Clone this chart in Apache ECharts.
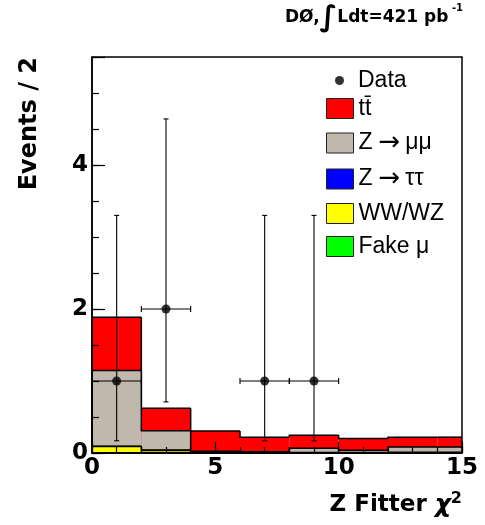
<!DOCTYPE html>
<html><head><meta charset="utf-8">
<script src="https://cdn.jsdelivr.net/npm/echarts@6/dist/echarts.min.js"></script>
<style>html,body{margin:0;padding:0;background:#fff}#c{width:485px;height:525px}</style>
</head><body><div id="c"></div>
<script>
// ---- data ----
const binEdges = [0, 2, 4, 6, 8, 10, 12, 14, 16];
const fakeMu  = [0, 0, 0, 0, 0, 0, 0, 0];
const wwwz    = [0.09, 0.035, 0.005, 0.003, 0.003, 0.003, 0.005, 0.005];
const ztautau = [0.005, 0.005, 0.01, 0.005, 0.005, 0.005, 0.005, 0.005];
const zmumu   = [1.05, 0.27, 0.01, 0.01, 0.057, 0.03, 0.073, 0.073];
const ttbar   = [0.74, 0.31, 0.28, 0.20, 0.18, 0.165, 0.137, 0.137];
const dataX       = [1, 3, 7, 9];
const dataY       = [1, 2, 1, 1];
const dataErrLow  = [0.83, 1.29, 0.83, 0.83];
const dataErrHigh = [2.30, 2.64, 2.30, 2.30];
const dataXErr    = [1, 1, 1, 1];
const xTickLabels = [0, 5, 10, 15];
const yTickLabels = [0, 2, 4];
const X_MIN = 0, X_MAX = 15, Y_MIN = 0, Y_MAX = 5.5;

// stack bottom -> top
const layers = [
  {name: 'Fake μ', vals: fakeMu, color: '#00ff00'},
  {name: 'WW/WZ', vals: wwwz, color: '#ffff00'},
  {name: 'Z → ττ', vals: ztautau, color: '#0000ff'},
  {name: 'Z → μμ', vals: zmumu, color: '#c0b7ad'},
  {name: 't\u0074\u0304', vals: ttbar, color: '#ff0000'}
];
let running = binEdges.slice(1).map(() => 0);
layers.forEach(l => { running = running.map((v, i) => v + l.vals[i]); l.cum = running.slice(); });

function histRender(params, api) {
  const x0 = api.value(0), x1 = Math.min(api.value(1), X_MAX), top = api.value(2), prev = api.value(3);
  const pBL = api.coord([x0, 0]);
  const pTR = api.coord([x1, top]);
  const pPrev = api.coord([x0, prev]);
  return {type: 'group', children: [
    {type: 'rect', shape: {x: pBL[0], y: pTR[1], width: pTR[0] - pBL[0], height: pBL[1] - pTR[1]},
     style: {fill: api.visual('color'), stroke: null}},
    {type: 'polyline', shape: {points: [[pBL[0], pPrev[1]], [pBL[0], pTR[1]], [pTR[0], pTR[1]]]},
     style: {stroke: '#000', lineWidth: 1.5, fill: null}}
  ]};
}

const histSeries = layers.slice().reverse().map(l => ({
  type: 'custom', name: l.name,
  itemStyle: {color: l.color},
  renderItem: histRender,
  encode: {x: [0, 1], y: 2},
  data: l.cum.map((c, i) => [binEdges[i], binEdges[i + 1], c, i > 0 ? l.cum[i - 1] : 0]),
  silent: true, z: 2
}));

function errRender(params, api) {
  const x = api.value(0), y = api.value(1), lo = api.value(2), hi = api.value(3), xe = api.value(4);
  const pl = api.coord([x, y - lo]), ph = api.coord([x, y + hi]);
  const pxl = api.coord([x - xe, y]), pxr = api.coord([x + xe, y]);
  const c = 2.5, st = {stroke: '#000', lineWidth: 1.1};
  const ln = (a, b, d, e) => ({type: 'line', shape: {x1: a, y1: b, x2: d, y2: e}, style: st});
  return {type: 'group', children: [
    ln(pl[0], pl[1], ph[0], ph[1]),
    ln(pxl[0], pxl[1], pxr[0], pxr[1]),
    ln(pl[0] - c, pl[1], pl[0] + c, pl[1]),
    ln(ph[0] - c, ph[1], ph[0] + c, ph[1]),
    ln(pxl[0], pxl[1] - 3, pxl[0], pxl[1] + 3),
    ln(pxr[0], pxr[1] - 3, pxr[0], pxr[1] + 3)
  ]};
}

const axisFont = {fontFamily: 'DejaVu Sans', fontWeight: 'bold', fontSize: 23, color: '#000'};
const legText = {fontFamily: 'Liberation Sans', fontSize: 23, lineHeight: 20, color: '#000',
  rich: {
    n: {fontFamily: 'Liberation Sans', fontSize: 23, lineHeight: 20, color: '#000'},
    ar: {fontFamily: 'DejaVu Sans', fontSize: 26, lineHeight: 20, color: '#000', padding: [0, 5, 0, 6]}
  }};
const legendFormatter = name => {
  const parts = name.split(' → ');
  return parts.length === 2 ? '{n|' + parts[0] + '}{ar|→}{n|' + parts[1] + '}' : '{n|' + name + '}';
};

const option = {
  animation: false,
  backgroundColor: '#fff',
  title: {
    text: '{a|DØ,}{i|∫}{a|Ldt=421 pb}{s| -1}',
    right: 22, top: 3, padding: 0,
    textStyle: {rich: {
      a: {fontFamily: 'DejaVu Sans', fontWeight: 'bold', fontSize: 17, color: '#000', lineHeight: 30},
      i: {fontFamily: 'DejaVu Sans', fontSize: 29, color: '#000', lineHeight: 30},
      s: {fontFamily: 'DejaVu Sans', fontWeight: 'bold', fontSize: 10, color: '#000', verticalAlign: 'top', lineHeight: 26}
    }}
  },
  grid: {left: 92, right: 23, top: 57, bottom: 72, show: true, borderColor: '#000', borderWidth: 1.5, backgroundColor: 'transparent', z: 6},
  legend: [
    {data: ['Data'], icon: 'circle', itemWidth: 27, itemHeight: 9, left: 335, top: 69, padding: 0,
     selectedMode: false, textStyle: legText, formatter: legendFormatter, itemStyle: {borderWidth: 0}},
    {data: layers.slice().reverse().map(l => l.name), icon: 'rect', orient: 'vertical',
     itemWidth: 27, itemHeight: 20, itemGap: 10, left: 326, top: 97, padding: 0,
     selectedMode: false, textStyle: legText, formatter: legendFormatter,
     itemStyle: {borderColor: '#222', borderWidth: 1}}
  ],
  xAxis: [
    {type: 'value', min: X_MIN, max: X_MAX, interval: 5, position: 'bottom', z: 5,
     axisLine: {show: true, lineStyle: {color: '#000', width: 1.5}},
     axisTick: {show: true, inside: true, length: 11, lineStyle: {color: '#000', width: 1.2}},
     axisLabel: {margin: 4, ...axisFont, formatter: v => xTickLabels.includes(v) ? String(v) : ''},
     splitLine: {show: false},
     name: '{b|Z Fitter }{c|χ}{s|2}', nameLocation: 'end', nameGap: 0,
     nameTextStyle: {...axisFont, align: 'right', verticalAlign: 'top', padding: [38, 0, 0, 0],
       rich: {
         b: {...axisFont, lineHeight: 28},
         c: {fontFamily: 'DejaVu Sans', fontStyle: 'italic', fontSize: 25, color: '#000', lineHeight: 28},
         s: {fontFamily: 'DejaVu Sans', fontWeight: 'bold', fontSize: 16, color: '#000', lineHeight: 18, verticalAlign: 'top'}
       }}},
    {type: 'value', min: X_MIN, max: X_MAX, interval: 1, position: 'bottom', z: 5,
     axisLine: {show: false}, axisLabel: {show: false}, splitLine: {show: false},
     axisTick: {show: true, inside: true, length: 6, lineStyle: {color: '#000', width: 1.2}}}
  ],
  yAxis: [
    {type: 'value', min: Y_MIN, max: Y_MAX, interval: 2, position: 'left', z: 5,
     axisLine: {show: true, lineStyle: {color: '#000', width: 1.5}},
     axisTick: {show: true, inside: true, length: 13, lineStyle: {color: '#000', width: 1.2}},
     axisLabel: {margin: 4, ...axisFont, formatter: v => yTickLabels.includes(v) ? String(v) : ''},
     splitLine: {show: false},
     name: 'Events / 2', nameLocation: 'end', nameGap: 0, nameRotate: 90,
     nameTextStyle: {...axisFont, fontSize: 24, align: 'right', verticalAlign: 'bottom', padding: [0, 0, 50, 0]}},
    {type: 'value', min: Y_MIN, max: Y_MAX, interval: 0.5, position: 'left', z: 5,
     axisLine: {show: false}, axisLabel: {show: false}, splitLine: {show: false},
     axisTick: {show: true, inside: true, length: 7, lineStyle: {color: '#000', width: 1.2}}}
  ],
  series: [
    ...histSeries,
    {type: 'custom', name: 'err', renderItem: errRender, encode: {x: 0, y: 1}, z: 7, silent: true,
     data: dataX.map((x, i) => [x, dataY[i], dataErrLow[i], dataErrHigh[i], dataXErr[i]])},
    {type: 'scatter', name: 'Data', symbol: 'circle', symbolSize: 9, itemStyle: {color: '#000'}, z: 8, silent: true,
     data: dataX.map((x, i) => [x, dataY[i]])}
  ]
};
const chart = echarts.init(document.getElementById('c'), null, {renderer: 'canvas'});
chart.setOption(option);
</script></body></html>
